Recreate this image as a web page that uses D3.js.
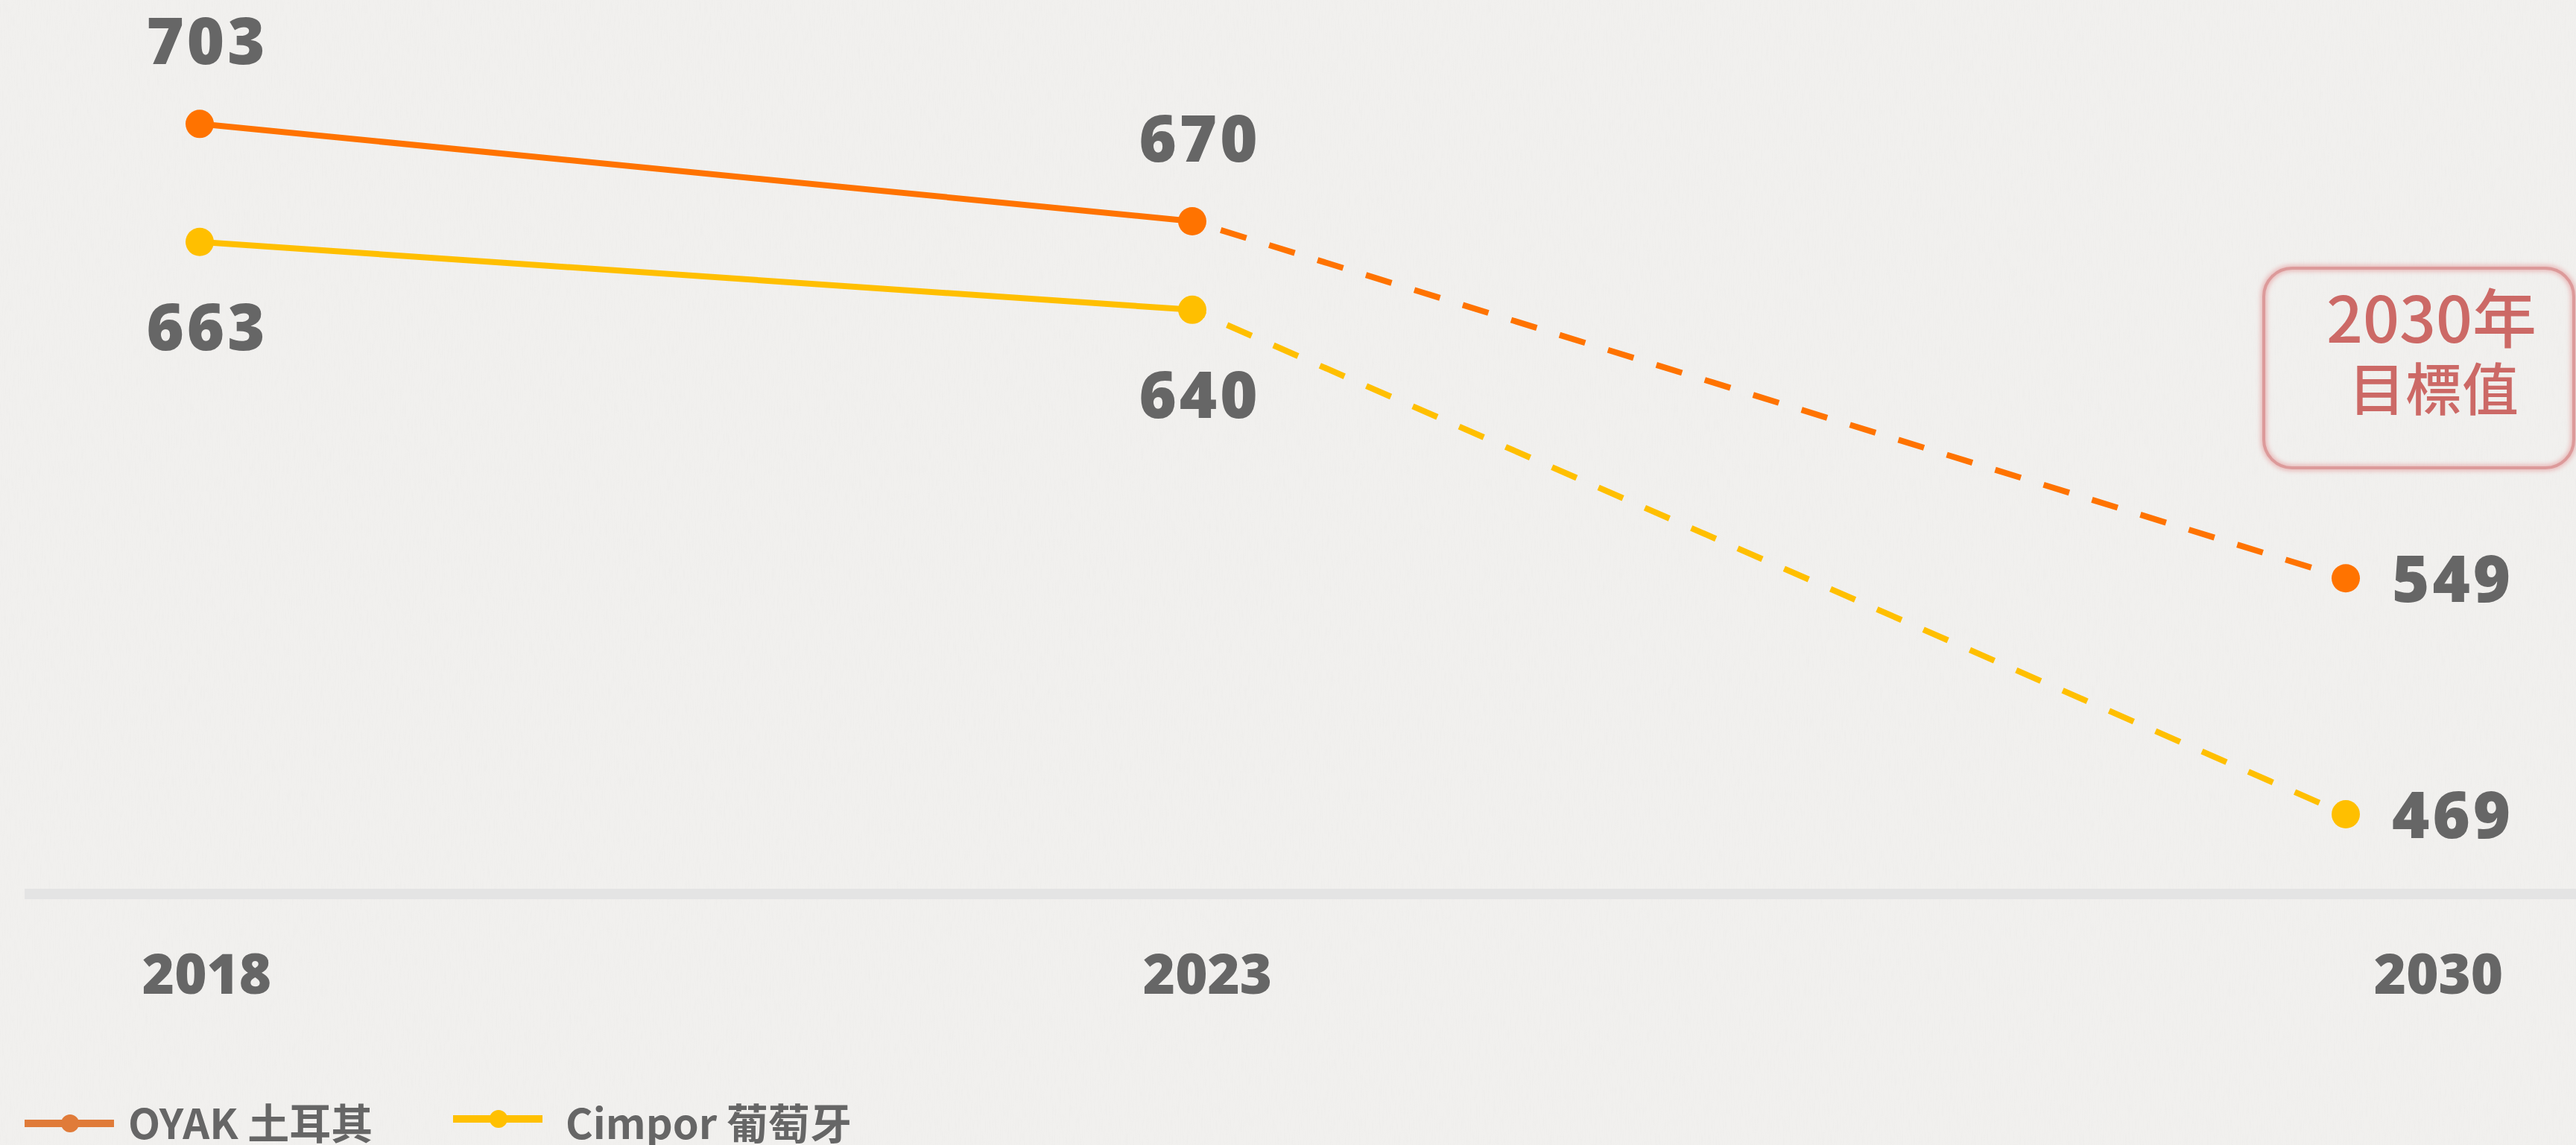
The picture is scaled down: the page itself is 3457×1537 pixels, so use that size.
<!DOCTYPE html>
<html>
<head>
<meta charset="utf-8">
<script src="https://cdn.jsdelivr.net/npm/d3@7"></script>
<style>
  html, body { margin: 0; padding: 0; background: #f1f0ee; overflow: hidden; }
  svg { display: block; }
</style>
</head>
<body>
<div id="chart"></div>
<script>
const years = [2018, 2023, 2030];
const oyakValues = [703, 670, 549];
const cimporValues = [663, 640, 469];
const seriesNames = ['OYAK 土耳其', 'Cimpor 葡萄牙'];
const seriesColors = ['#ff7300', '#ffbf00'];
const legendColors = ['#e07b39', '#ffc000'];
const targetText = ['2030年', '目標值'];

const width = 3457, height = 1537;
const axisY = 1200;

const svg = d3.select('#chart').append('svg')
    .attr('width', width)
    .attr('height', height);

// paper-ish background
const defs = svg.append('defs');
const paper = defs.append('filter').attr('id', 'paper')
    .attr('x', 0).attr('y', 0).attr('width', '100%').attr('height', '100%');
paper.append('feTurbulence').attr('type', 'fractalNoise')
    .attr('baseFrequency', '0.9 0.05').attr('numOctaves', 2).attr('seed', 4);
paper.append('feColorMatrix').attr('type', 'matrix')
    .attr('values', '0 0 0 0 0.55  0 0 0 0 0.55  0 0 0 0 0.55  0 0 0 -1.6 0.9');
const glow = defs.append('filter').attr('id', 'glow')
    .attr('x', '-10%').attr('y', '-10%').attr('width', '120%').attr('height', '120%');
glow.append('feGaussianBlur').attr('stdDeviation', 3);

svg.append('rect').attr('width', width).attr('height', height).attr('fill', '#f1f0ee');
svg.append('rect').attr('width', width).attr('height', height)
    .attr('filter', 'url(#paper)').attr('opacity', 0.08);

// scales
const x = d3.scaleLinear().domain(years).range([268, 1600, 3148]);
const xLabel = d3.scaleLinear().domain(years).range([277, 1620, 3272]);
const y = d3.scaleLinear().domain([442, 745]).range([axisY, 0]);

// axis
const axis = svg.append('g').attr('transform', `translate(0,${axisY})`)
    .call(d3.axisBottom(xLabel).tickValues(years).tickFormat(d3.format('d')).tickSize(0).tickPadding(81));
axis.select('.domain').remove();
axis.append('line').attr('x1', 33).attr('x2', width).attr('y1', 0).attr('y2', 0)
    .attr('stroke', '#e4e4e4').attr('stroke-width', 14);
axis.selectAll('.tick text')
    .attr('fill', '#666')
    .style('font-family', '"Open Sans", sans-serif')
    .style('font-weight', 800)
    .style('font-size', '74px');

const series = [
    { name: seriesNames[0], values: oyakValues, color: seriesColors[0], offset: 28, above: true },
    { name: seriesNames[1], values: cimporValues, color: seriesColors[1], offset: 17, above: false }
];

const line = d3.line().x(d => x(d.year)).y(d => y(d.value));

series.forEach(s => {
    const pts = years.map((yr, i) => ({ year: yr, value: s.values[i] }));
    const g = svg.append('g');

    g.append('path').datum(pts.slice(0, 2))
        .attr('d', line).attr('fill', 'none')
        .attr('stroke', s.color).attr('stroke-width', 8);

    g.append('path').datum(pts.slice(1))
        .attr('d', line).attr('fill', 'none')
        .attr('stroke', s.color).attr('stroke-width', 8)
        .attr('stroke-dasharray', '36 32')
        .attr('stroke-dashoffset', s.offset);

    g.selectAll('circle').data(pts).enter().append('circle')
        .attr('cx', d => x(d.year)).attr('cy', d => y(d.value))
        .attr('r', 19).attr('fill', s.color);

    g.selectAll('text').data(pts).enter().append('text')
        .attr('x', (d, i) => i === 2 ? x(d.year) + 62 : x(d.year) + 10)
        .attr('y', (d, i) => i === 2 ? y(d.value) + 32 : (s.above ? y(d.value) - 80 : y(d.value) + 145))
        .attr('text-anchor', (d, i) => i === 2 ? 'start' : 'middle')
        .attr('fill', '#666')
        .style('font-family', '"Open Sans", sans-serif')
        .style('font-weight', 800)
        .style('font-size', '86px')
        .style('letter-spacing', '4px')
        .text(d => d.value);
});

// 2030 target box
const box = svg.append('g');
box.append('rect').attr('x', 3038).attr('y', 360).attr('width', 416).attr('height', 268)
    .attr('rx', 38).attr('fill', 'none')
    .attr('stroke', '#e8b4b4').attr('stroke-width', 8).attr('filter', 'url(#glow)');
box.append('rect').attr('x', 3038).attr('y', 360).attr('width', 416).attr('height', 268)
    .attr('rx', 38).attr('fill', 'none')
    .attr('stroke', '#dc9a9a').attr('stroke-width', 4);
box.append('text').attr('x', 3263).attr('y', 460)
    .attr('text-anchor', 'middle').attr('fill', '#cc6966')
    .style('font-family', '"Noto Sans CJK TC", sans-serif')
    .style('font-weight', 500).style('font-size', '86px')
    .text(targetText[0]);
box.append('text').attr('x', 3266).attr('y', 551)
    .attr('text-anchor', 'middle').attr('fill', '#cc6966')
    .style('font-family', '"Noto Sans CJK TC", sans-serif')
    .style('font-weight', 500).style('font-size', '76px')
    .text(targetText[1]);

// legend
const legendLineX = [33, 608];
const legendLineY = [1508, 1502];
const legendTextX = [172, 759];
const legend = svg.append('g');
seriesNames.forEach((name, i) => {
    const lg = legend.append('g');
    lg.append('line').attr('x1', legendLineX[i]).attr('x2', legendLineX[i] + 120)
        .attr('y1', legendLineY[i]).attr('y2', legendLineY[i])
        .attr('stroke', legendColors[i]).attr('stroke-width', 10);
    lg.append('circle').attr('cx', legendLineX[i] + 61).attr('cy', legendLineY[i])
        .attr('r', 12).attr('fill', legendColors[i]);
    lg.append('text').attr('x', legendTextX[i]).attr('y', 1529)
        .attr('fill', '#666')
        .style('font-family', '"Noto Sans CJK TC", sans-serif')
        .style('font-weight', 700).style('font-size', '56px')
        .text(name);
});
</script>
</body>
</html>
